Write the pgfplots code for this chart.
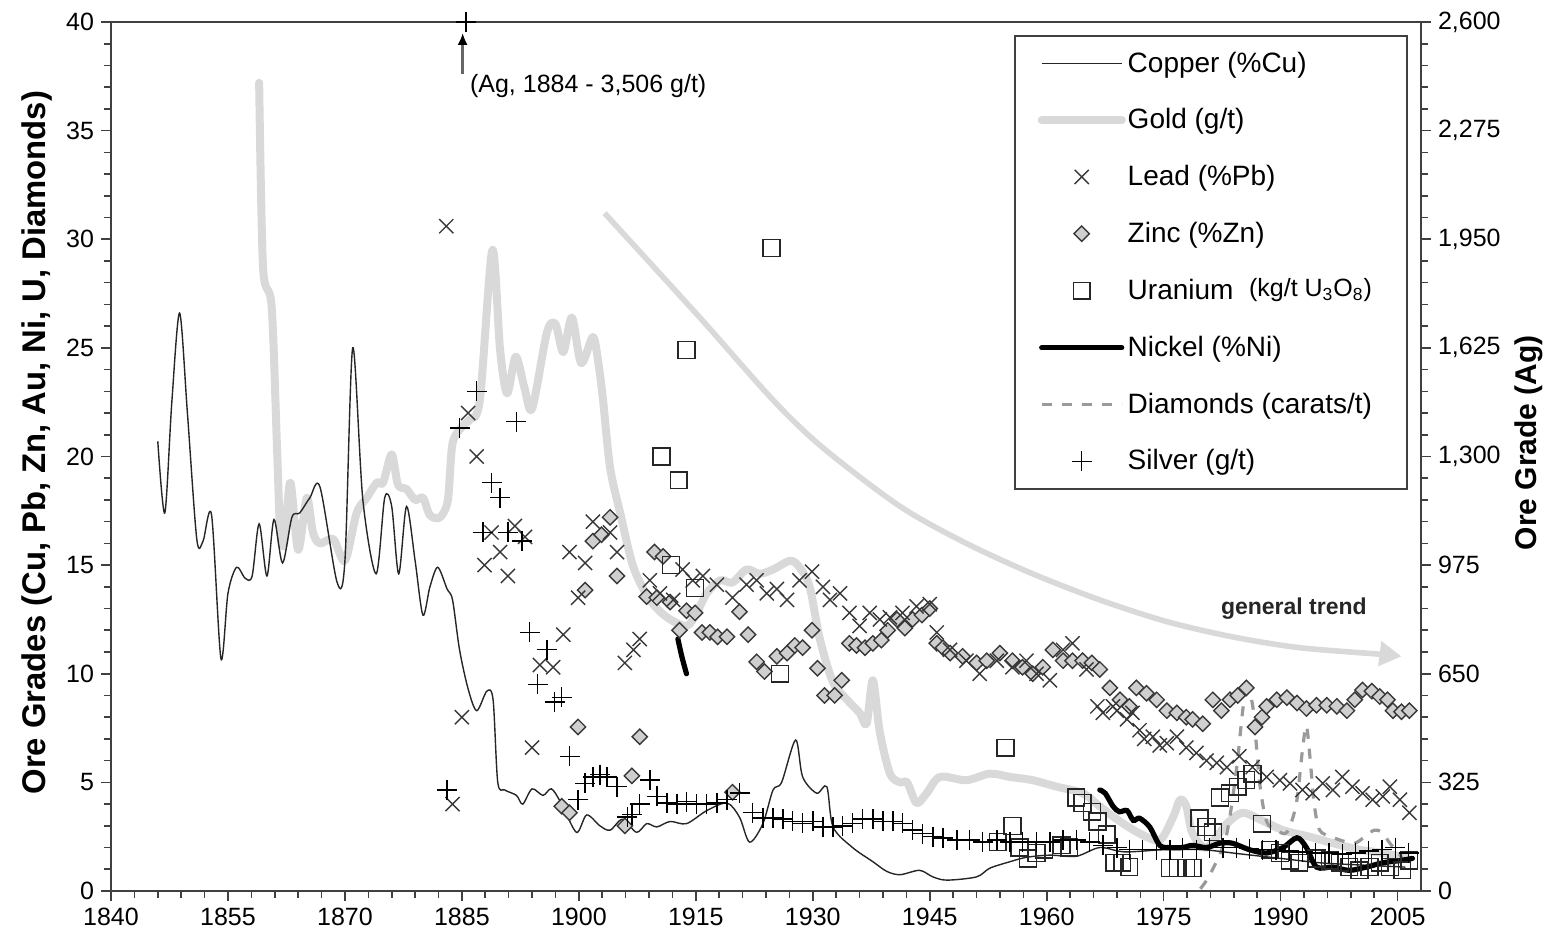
\documentclass[border=0pt]{standalone}
\usepackage{fontspec}
\setmainfont{Liberation Sans}
\usepackage{pgfplots}
\pgfplotsset{compat=1.18}
\usetikzlibrary{calc,arrows.meta}

\definecolor{goldc}{HTML}{D9D9D9}
\definecolor{axisc}{HTML}{404040}
\definecolor{leadc}{HTML}{383838}
\definecolor{zincf}{HTML}{CFCFCF}
\definecolor{diamc}{HTML}{9A9A9A}

\pgfplotsset{
  base/.style={
    width=655pt, height=434.5pt, scale only axis,
    xmin=1840, xmax=2008,
    axis line style={axisc, line width=0.9pt},
    tick style={axisc, line width=0.8pt},
    major tick length=5pt, minor tick length=3.5pt,
    tick align=outside,
    tick label style={font=\fontsize{12.5}{15}\selectfont},
    /pgf/number format/assume math mode=true,
  },
  copperS/.style={draw=black!85, line width=0.7pt, smooth, no markers},
  goldS/.style={draw=goldc, line width=4pt, smooth, line join=round, line cap=round, no markers},
  leadS/.style={only marks, mark=x, mark size=5pt, mark options={draw=leadc, line width=0.7pt}},
  zincS/.style={only marks, mark=square*, mark size=2.7pt, mark options={rotate=45, draw=leadc, fill=zincf, line width=0.7pt}},
  uranS/.style={only marks, mark=square, mark size=4.2pt, mark options={draw=black!85, line width=0.7pt}},
  nickS/.style={draw=black, line width=2.6pt, smooth, line cap=round, no markers},
  diamS/.style={draw=diamc, line width=1.6pt, dash pattern=on 5pt off 5pt, smooth, no markers},
  silvS/.style={only marks, mark=+, mark size=5pt, mark options={draw=black, line width=0.7pt}},
}

\begin{document}
\begin{tikzpicture}
\begin{axis}[base, name=main,
  ymin=0, ymax=40, ytick={0,5,...,40}, minor y tick num=4,
  xtick={1840,1855,...,2005}, minor x tick num=4,
  xticklabel style={/pgf/number format/1000 sep=},
  tick pos=left,
  ylabel={Ore Grades (Cu, Pb, Zn, Au, Ni, U, Diamonds)},
  ylabel style={at={(ticklabel cs:0.516)}, font=\fontsize{16.4}{19}\selectfont\bfseries},
  legend cell align=left,
  legend image code/.code={\draw[mark repeat=2,mark phase=2,#1] plot coordinates {(0pt,0pt) (20pt,0pt) (40pt,0pt)};},
  legend style={at={(0.990,0.985)}, anchor=north east, draw=axisc, line width=0.9pt,
    fill=white, font=\fontsize{14}{16.5}\selectfont, row sep=12.7pt,
    inner xsep=11.5pt, inner ysep=6pt, nodes={inner xsep=1pt}},
]
% gold
\addplot[goldS, forget plot] coordinates {(1859.0,37.2)(1859.5,28.7)(1860.6,26.9)(1861.3,20.3)(1861.7,16.5)(1862.2,16)(1863.0,18.8)(1864.0,15.7)(1865.1,18.1)(1865.9,16.5)(1866.8,16.0)(1868.5,16.2)(1870.0,15.2)(1871.5,17.4)(1872.8,18.1)(1874.1,18.8)(1874.9,18.8)(1876.0,20.1)(1876.8,18.7)(1877.9,18.5)(1879.0,18.0)(1880.0,18.1)(1880.9,17.3)(1882.2,17.2)(1883.2,18.0)(1883.8,20.6)(1885.1,21.4)(1886.0,21.7)(1887.3,22.6)(1888.9,29.5)(1889.9,24.9)(1890.8,22.9)(1891.9,24.6)(1893.0,23.2)(1894.0,22.2)(1895.9,25.7)(1897.0,26.1)(1898.0,24.8)(1899.1,26.4)(1900.3,24.3)(1901.8,25.5)(1902.5,24.3)(1903.1,22.6)(1904.0,19.5)(1905.3,17.4)(1907.0,14.9)(1909.1,13.4)(1911.3,12.6)(1913.8,12.2)(1915.1,12.8)(1916.4,13.7)(1918.1,14.3)(1919.7,14.2)(1921.5,14.8)(1923.2,14.6)(1924.9,14.8)(1927.1,15.2)(1928.3,14.9)(1929.6,14.0)(1930.9,11.6)(1932.6,9.6)(1934.4,8.8)(1936.0,8.2)(1936.9,7.7)(1937.7,9.7)(1938.6,7.3)(1939.9,5.4)(1941.2,5.0)(1942.1,5.0)(1943.3,4.05)(1944.6,4.5)(1946.3,5.25)(1949.7,5.1)(1952.7,5.4)(1955.3,5.25)(1958.2,5.1)(1961.3,4.8)(1964.6,4.5)(1966.8,3.9)(1969.0,3.3)(1971.9,2.65)(1974.5,2.35)(1976.2,3.4)(1977.1,4.2)(1977.9,3.9)(1978.7,2.65)(1980.5,2.0)(1983.1,3.1)(1985.1,3.6)(1987.3,3.3)(1990.3,2.8)(1993.7,2.5)(1996.7,2.2)(2000.1,1.9)(2003.1,1.75)(2006.1,1.55)};
% general trend arrow
\addplot[draw=goldc, line width=2.8pt, smooth, forget plot, -{Triangle[length=11pt,width=12pt]}] coordinates {(1903.3,31.2)(1915.5,26.4)(1924.9,22.6)(1931.3,20.4)(1941.2,17.7)(1949.7,16.0)(1958.2,14.6)(1966.8,13.4)(1975.4,12.4)(1983.8,11.7)(1992.4,11.2)(2002.7,10.9)(2005.5,10.8)};
% diamonds
\addplot[diamS, forget plot] coordinates {(1979.7,0.1)(1981,0.8)(1983,2.5)(1984.3,5.5)(1985.2,8.5)(1985.8,9.3)(1986.5,8.3)(1987.3,5.0)(1988.2,3.2)(1989.5,2.8)(1990.8,2.7)(1992.0,4.0)(1992.8,6.5)(1993.3,7.6)(1993.8,6.0)(1994.3,4.0)(1995,2.8)(1996.5,2.5)(1998,2.3)(1999.5,2.2)(2000.8,2.5)(2002,2.8)(2003,2.7)(2004,2.2)(2005,1.8)(2006,1.3)};
% copper
\addplot[copperS, forget plot] coordinates {(1846.0,20.7)(1846.9,17.4)(1847.8,22.5)(1848.8,26.6)(1849.8,22)(1851.0,16.2)(1851.8,16.1)(1852.9,17.3)(1854.1,10.7)(1855.0,13.7)(1856.1,14.9)(1857.2,14.4)(1858.1,14.5)(1859.0,16.9)(1860.0,14.5)(1860.9,17.1)(1862.0,15.1)(1863.2,17.2)(1864.2,17.4)(1865.5,18.1)(1866.8,18.6)(1869.0,14.2)(1870.0,15.2)(1871.0,25.0)(1872.3,18.0)(1874.0,14.6)(1875.1,18.1)(1876.0,17.7)(1876.9,14.6)(1877.9,17.7)(1879.0,15.2)(1880.0,12.7)(1880.9,14.0)(1881.9,14.9)(1883.1,13.9)(1883.8,13.4)(1884.7,11.1)(1885.8,9.3)(1886.9,8.3)(1888.2,9.2)(1889.0,8.8)(1889.6,5.0)(1890.5,4.65)(1892.0,4.4)(1892.8,4.0)(1894.0,4.7)(1895.4,4.4)(1896.5,4.7)(1897.8,4.0)(1899.7,2.7)(1901.0,3.5)(1902.7,3.0)(1904.0,2.8)(1905.6,3.3)(1907.4,2.7)(1908.7,3.1)(1910.0,2.95)(1911.7,3.2)(1913.8,3.1)(1916.4,3.7)(1919.0,4.05)(1920.6,3.4)(1921.9,2.25)(1923.6,3.1)(1924.9,4.65)(1926.0,5.0)(1927.8,6.95)(1928.7,5.25)(1930.5,4.5)(1931.8,4.8)(1932.6,2.95)(1935.1,2.0)(1937.7,1.35)(1939.5,0.9)(1941.2,0.75)(1943.7,0.95)(1945.4,0.65)(1947.2,0.5)(1951.0,0.65)(1952.7,1.05)(1955.3,1.35)(1957.4,1.55)(1960.4,1.65)(1963.8,1.6)(1966.8,2.0)(1970,1.8)(1975,1.9)(1980,1.9)(1985,1.7)(1990,1.5)(1995,1.3)(2000,1.2)(2006,1.1)};
% zinc
\addplot[zincS, forget plot] coordinates {(1897.8,3.9)(1898.8,3.6)(1899.9,7.55)(1900.8,13.85)(1901.8,16.1)(1902.9,16.4)(1904.0,17.2)(1904.9,14.5)(1905.9,3.0)(1906.8,5.3)(1907.8,7.1)(1908.7,13.55)(1909.7,15.6)(1910.0,13.5)(1910.8,15.4)(1911.7,13.3)(1912.9,12.0)(1913.8,12.9)(1914.9,12.8)(1915.8,11.9)(1916.8,11.9)(1917.8,11.7)(1919.0,11.7)(1919.7,4.55)(1920.6,12.85)(1921.7,11.8)(1922.8,10.55)(1923.8,10.1)(1925.4,10.8)(1926.7,10.95)(1927.7,11.3)(1928.7,11.2)(1929.9,12.0)(1930.6,10.25)(1931.5,9.0)(1932.8,9.0)(1933.7,9.7)(1934.7,11.4)(1935.6,11.3)(1936.7,11.2)(1937.7,11.4)(1938.8,11.55)(1939.6,12.0)(1940.8,12.5)(1941.8,12.1)(1942.8,12.5)(1944.0,12.7)(1945.0,13.0)(1945.9,11.4)(1946.7,11.2)(1947.6,10.95)(1949.2,10.8)(1951.0,10.5)(1952.3,10.6)(1954.0,10.95)(1955.6,10.6)(1956.9,10.3)(1958.2,10.0)(1959.5,10.3)(1960.8,11.1)(1962.1,10.6)(1963.3,10.6)(1964.6,10.6)(1965.8,10.5)(1966.8,10.2)(1968.1,9.35)(1969.4,8.8)(1970.6,8.5)(1971.5,9.35)(1972.8,9.1)(1974.1,8.8)(1975.4,8.3)(1976.7,8.2)(1977.9,8.0)(1978.7,7.9)(1980.0,7.7)(1981.3,8.8)(1982.4,8.3)(1983.5,8.8)(1984.5,9.0)(1985.6,9.35)(1986.7,7.55)(1987.6,8.0)(1988.2,8.5)(1989.5,8.8)(1990.8,8.9)(1992.1,8.65)(1993.3,8.4)(1994.6,8.55)(1995.9,8.55)(1997.2,8.5)(1998.5,8.3)(1999.5,8.8)(2000.5,9.25)(2001.7,9.2)(2002.7,8.95)(2003.7,8.8)(2004.4,8.3)(2005.5,8.25)(2006.5,8.3)};
% lead
\addplot[leadS, forget plot] coordinates {(1883.0,30.6)(1883.8,4.0)(1885.0,8.0)(1885.8,22.0)(1886.9,20.0)(1887.9,15.0)(1888.8,16.5)(1889.9,15.6)(1890.9,14.5)(1891.8,16.8)(1893.1,16.3)(1894.0,6.6)(1895.0,10.4)(1896.7,10.3)(1898.0,11.8)(1898.8,15.6)(1899.9,13.5)(1900.8,15.1)(1901.8,17.0)(1904.0,16.5)(1904.9,15.6)(1905.9,10.5)(1907.0,11.1)(1907.8,11.6)(1909.1,14.3)(1910.4,13.7)(1912.1,13.4)(1913.3,14.8)(1914.6,14.3)(1915.9,14.5)(1917.7,14.1)(1919.7,13.5)(1921.5,14.1)(1922.8,14.3)(1924.1,13.7)(1925.4,13.9)(1926.7,13.4)(1928.3,14.3)(1929.9,14.7)(1931.3,14.0)(1932.2,13.4)(1933.5,13.7)(1934.7,12.8)(1936.0,12.2)(1937.3,12.8)(1938.6,12.5)(1939.9,12.6)(1941.5,12.8)(1943.3,13.1)(1945.0,13.2)(1945.9,11.9)(1947.6,11.1)(1949.7,10.6)(1951.4,10.0)(1953.6,10.6)(1955.6,10.3)(1957.4,10.6)(1958.7,10.0)(1960.4,9.7)(1962.1,11.1)(1963.3,11.4)(1965.1,10.2)(1966.5,8.5)(1967.2,8.2)(1968.5,8.5)(1969.0,8.3)(1970.3,7.9)(1971.0,8.2)(1971.9,7.4)(1972.5,7.0)(1973.6,7.1)(1974.5,6.7)(1975.4,6.8)(1976.7,7.1)(1977.9,6.6)(1979.2,6.35)(1980.5,6.0)(1981.8,5.9)(1983.1,5.7)(1984.7,6.2)(1986.4,5.7)(1988.2,5.25)(1989.9,5.1)(1991.2,4.95)(1992.8,4.65)(1994.1,4.5)(1995.4,4.95)(1996.7,4.65)(1997.9,5.25)(1999.2,4.8)(2000.5,4.5)(2001.8,4.2)(2003.1,4.35)(2004.0,4.8)(2005.3,4.2)(2006.5,3.6)};
% nickel
\addplot[nickS, forget plot] coordinates {(1912.7,11.6)(1913.2,10.8)(1913.8,10.0)};
\addplot[nickS, forget plot] coordinates {(1966.8,4.65)(1967.5,4.5)(1968.5,3.9)(1969.3,3.65)(1970.3,3.7)(1971.1,3.25)(1971.9,3.35)(1973.2,2.95)(1974.5,2.1)(1975.8,2.0)(1977.4,2.0)(1978.7,2.1)(1980.5,2.0)(1982.2,2.2)(1983.8,2.2)(1986.0,1.9)(1988.2,1.75)(1990.3,2.0)(1992.1,2.45)(1993.3,2.0)(1994.6,1.1)(1996.7,1.1)(1998.8,0.95)(2001.0,1.1)(2003.1,1.3)(2005.3,1.4)(2006.9,1.5)};
% uranium
\addplot[uranS, forget plot] coordinates {(1910.6,20.0)(1911.8,15.0)(1912.8,18.9)(1913.8,24.9)(1914.9,13.95)(1924.7,29.6)(1925.8,10.0)(1953.7,2.25)(1954.7,6.6)(1955.6,3.0)(1956.5,2.0)(1957.6,1.5)(1958.7,1.75)(1959.7,1.9)(1961.9,2.1)(1962.9,2.0)(1963.8,4.3)(1964.6,4.05)(1965.8,3.65)(1966.5,3.2)(1967.7,2.6)(1968.7,1.3)(1969.7,1.3)(1970.6,1.1)(1975.8,1.05)(1976.8,1.05)(1977.9,1.05)(1978.7,1.05)(1979.6,3.35)(1980.5,2.95)(1981.3,2.7)(1982.2,4.3)(1983.5,4.5)(1984.5,4.8)(1985.6,5.1)(1986.4,5.4)(1987.6,3.1)(1988.6,1.9)(1989.9,1.75)(1991.2,1.4)(1992.4,1.3)(1994.6,1.5)(1996.3,1.4)(1997.6,1.3)(1998.8,1.1)(2000.1,0.95)(2001.4,1.1)(2002.7,1.3)(2004.0,1.1)(2005.6,0.95)(2006.5,1.4)};

\addlegendimage{copperS}\addlegendentry{Copper (\%Cu)}
\addlegendimage{goldS}\addlegendentry{Gold (g/t)}
\addlegendimage{leadS}\addlegendentry{Lead (\%Pb)}
\addlegendimage{zincS}\addlegendentry{Zinc (\%Zn)}
\addlegendimage{uranS}\addlegendentry{Uranium\ \ \raisebox{1.5pt}{\fontsize{12.5}{14}\selectfont(kg/t U\textsubscript{3}O\textsubscript{8})}}
\addlegendimage{nickS}\addlegendentry{Nickel (\%Ni)}
\addlegendimage{diamS}\addlegendentry{Diamonds (carats/t)\hspace*{5pt}}
\addlegendimage{silvS}\addlegendentry{Silver (g/t)}

\node[font=\fontsize{11.5}{14}\selectfont\bfseries, text=black!85] at (axis cs:1991.7,12.98) {general trend};
\node[anchor=west, inner sep=0pt, font=\fontsize{12.5}{15}\selectfont] at (axis cs:1886.0,37.05) {(Ag, 1884 - 3,506 g/t)};
\draw[black!60, line width=1.2pt, -{Latex[length=6pt,width=5pt,black]}] (axis cs:1885.1,37.6) -- (axis cs:1885.1,39.5);
\end{axis}

\begin{axis}[base,
  ymin=0, ymax=2600, ytick={0,325,...,2600}, minor y tick num=4,
  axis y line*=right, axis x line=none,
  ylabel={Ore Grade (Ag)},
  ylabel style={at={(ticklabel cs:0.516)}, font=\fontsize{15}{18}\selectfont\bfseries},
  clip=false,
]
\addplot[silvS] coordinates {(1883.1,302)(1884.7,1385)(1885.5,2600)(1886.9,1495)(1887.7,1073)(1888.8,1222)(1889.9,1177)(1890.9,1073)(1892.0,1404)(1892.7,1047)(1893.7,774)(1894.7,618)(1895.9,722)(1896.9,566)(1897.8,579)(1898.8,403)(1899.9,273)(1900.8,322)(1901.8,341)(1902.7,348)(1903.6,341)(1904.9,312)(1906.2,221)(1906.8,228)(1907.8,260)(1909.1,332)(1910.0,283)(1911.3,263)(1912.6,260)(1913.8,267)(1915.1,260)(1916.4,260)(1917.7,263)(1919.0,273)(1920.6,293)(1922.3,234)(1923.6,218)(1924.9,218)(1926.2,215)(1927.4,208)(1928.7,202)(1930.0,208)(1931.3,192)(1932.6,192)(1933.8,195)(1935.1,202)(1936.4,215)(1937.7,215)(1939.0,208)(1940.3,208)(1941.5,202)(1942.8,182)(1944.1,172)(1945.4,163)(1946.7,159)(1948.5,153)(1950.1,153)(1951.8,146)(1953.6,153)(1955.3,146)(1956.9,146)(1958.7,146)(1960.4,146)(1962.1,153)(1963.8,153)(1965.5,146)(1967.2,137)(1969.0,130)(1970.6,124)(1972.3,124)(1974.1,124)(1975.8,124)(1977.4,130)(1979.2,124)(1980.9,130)(1982.6,130)(1984.3,130)(1986.0,127)(1987.7,124)(1989.4,124)(1991.1,120)(1992.8,117)(1994.5,114)(1996.2,114)(1997.9,111)(1999.6,114)(2001.3,120)(2003.0,124)(2004.7,130)(2006.4,114)};
\end{axis}

\pgfresetboundingbox
\path ($(main.south west)+(-55.5pt,-24.5pt)$) rectangle ($(main.north east)+(64.5pt,11pt)$);
\end{tikzpicture}
\end{document}
